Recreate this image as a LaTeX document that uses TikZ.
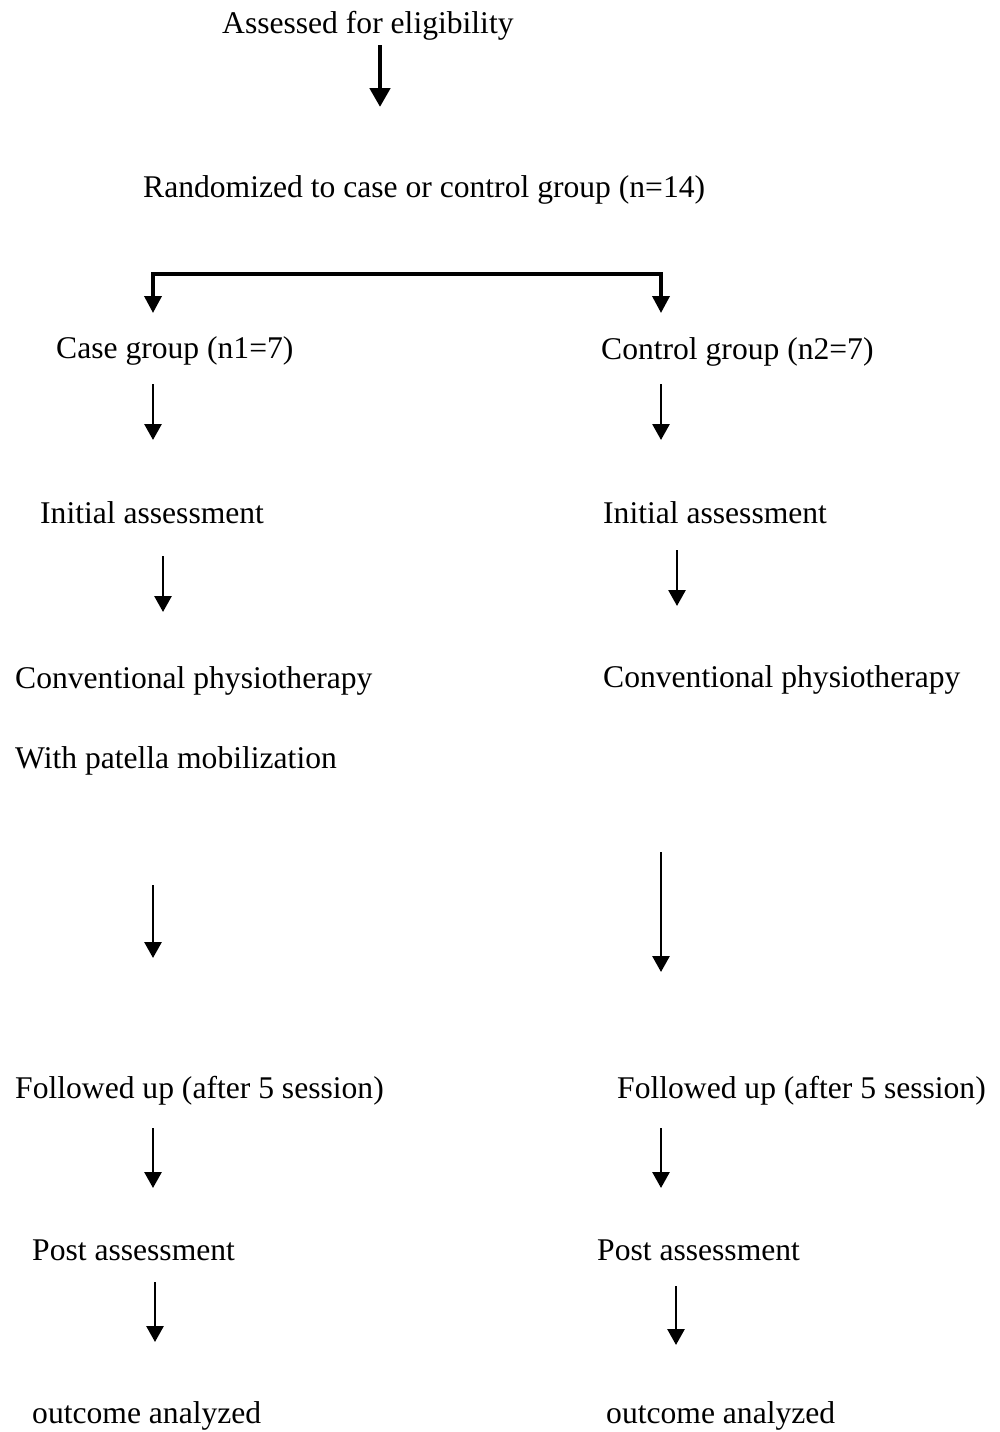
\documentclass[tikz,border=0pt]{standalone}
\usepackage{fontspec}
\setmainfont{Liberation Serif}
\usetikzlibrary{arrows.meta}
\begin{document}
\begin{tikzpicture}[x=1pt,y=-1pt,
  lbl/.style={anchor=base west,inner sep=0pt,font=\fontsize{31.6}{38}\selectfont},
  arr/.style={line width=2.8pt,-{Triangle[width=17pt,length=16pt]}},
  bigarr/.style={line width=4.8pt,-{Triangle[width=20pt,length=19pt]}},
  brk/.style={line width=3.6pt,{Triangle[width=17pt,length=17pt]}-{Triangle[width=17pt,length=17pt]}}]
\useasboundingbox (0,0) rectangle (999,1432);
% texts
\node[lbl] (t1) at (222,33) {Assessed for eligibility};
\node[lbl] (t2) at (143,197) {Randomized to case or control group (n=14)};
\node[lbl] (caseg) at (56,358) {Case group (n1=7)};
\node[lbl] (ctrlg) at (601,359) {Control group (n2=7)};
\node[lbl] (initL) at (40,523) {Initial assessment};
\node[lbl] (initR) at (603,523) {Initial assessment};
\node[lbl] (convL) at (15,688) {Conventional physiotherapy};
\node[lbl] (convR) at (603,687) {Conventional physiotherapy};
\node[lbl] (withL) at (15,768) {With patella mobilization};
\node[lbl] (follL) at (15,1098) {Followed up (after 5 session)};
\node[lbl] (follR) at (617,1098) {Followed up (after 5 session)};
\node[lbl] (postL) at (32,1260) {Post assessment};
\node[lbl] (postR) at (597,1260) {Post assessment};
\node[lbl] (outL) at (32,1423) {outcome analyzed};
\node[lbl] (outR) at (606,1423) {outcome analyzed};
% arrow end points
\coordinate (a0s) at (380,45);   \coordinate (a0e) at (380,107);
\coordinate (bL) at (153,313);   \coordinate (bLt) at (153,274);
\coordinate (bRt) at (661,274);  \coordinate (bR) at (661,313);
\coordinate (l1s) at (153,384);  \coordinate (l1e) at (153,440);
\coordinate (r1s) at (661,384);  \coordinate (r1e) at (661,440);
\coordinate (l2s) at (163,556);  \coordinate (l2e) at (163,612);
\coordinate (r2s) at (677,550);  \coordinate (r2e) at (677,606);
\coordinate (l3s) at (153,885);  \coordinate (l3e) at (153,958);
\coordinate (r3s) at (661,852);  \coordinate (r3e) at (661,972);
\coordinate (l4s) at (153,1128); \coordinate (l4e) at (153,1188);
\coordinate (r4s) at (661,1128); \coordinate (r4e) at (661,1188);
\coordinate (l5s) at (155,1282); \coordinate (l5e) at (155,1342);
\coordinate (r5s) at (676,1286); \coordinate (r5e) at (676,1345);
% connectors
\draw[bigarr] (a0s) -- (a0e);
\draw[brk] (bL) -- (bLt) -- (bRt) -- (bR);
\draw[arr] (l1s) -- (l1e);
\draw[arr] (r1s) -- (r1e);
\draw[arr] (l2s) -- (l2e);
\draw[arr] (r2s) -- (r2e);
\draw[arr] (l3s) -- (l3e);
\draw[arr] (r3s) -- (r3e);
\draw[arr] (l4s) -- (l4e);
\draw[arr] (r4s) -- (r4e);
\draw[arr] (l5s) -- (l5e);
\draw[arr] (r5s) -- (r5e);
\end{tikzpicture}
\end{document}
